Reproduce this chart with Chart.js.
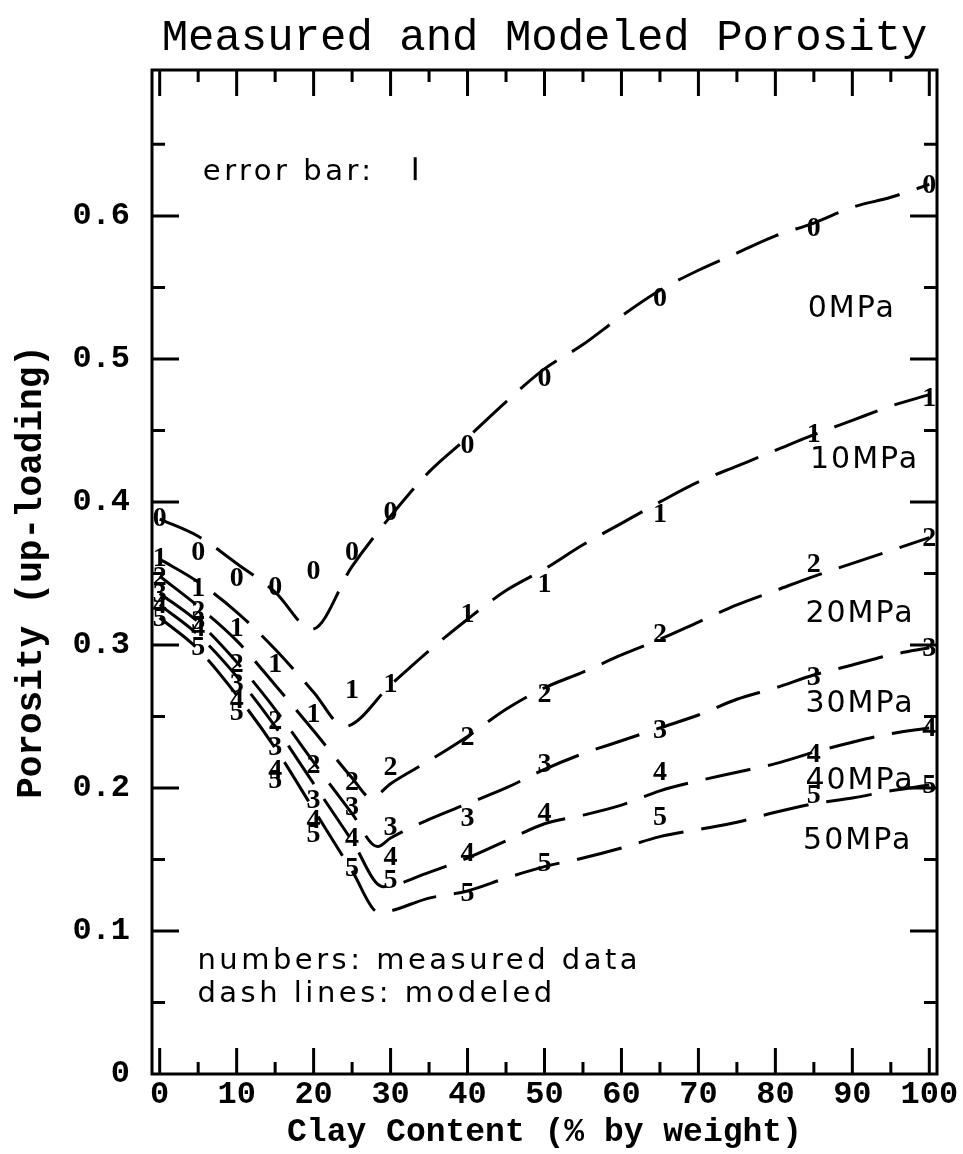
<!DOCTYPE html>
<html>
<head>
<meta charset="utf-8">
<script src="https://cdn.jsdelivr.net/npm/chart.js@4.4.1/dist/chart.umd.min.js"></script>
<style>
  html, body { margin: 0; padding: 0; background: #fff; }
  canvas { display: block; }
</style>
</head>
<body>
<canvas id="chart-porosity" width="963" height="1154"></canvas>
<script>
// measured porosity, one array per stress level (digit = label drawn at the point)
const measuredX = [0, 5, 10, 15, 20, 25, 30, 40, 50, 65, 85, 100];
const measured0 = [0.389, 0.365, 0.347, 0.341, 0.352, 0.365, 0.393, 0.440, 0.487, 0.543, 0.592, 0.622];
const measured1 = [0.361, 0.340, 0.312, 0.287, 0.252, 0.269, 0.273, 0.322, 0.343, 0.392, 0.448, 0.473];
const measured2 = [0.348, 0.324, 0.287, 0.247, 0.216, 0.204, 0.215, 0.236, 0.266, 0.308, 0.357, 0.375];
const measured3 = [0.336, 0.317, 0.273, 0.229, 0.192, 0.187, 0.173, 0.179, 0.217, 0.241, 0.278, 0.298];
const measured4 = [0.328, 0.312, 0.262, 0.213, 0.178, 0.165, 0.152, 0.155, 0.183, 0.211, 0.224, 0.242];
const measured5 = [0.319, 0.299, 0.253, 0.206, 0.168, 0.144, 0.136, 0.127, 0.148, 0.180, 0.195, 0.202];

// modeled curves (dashed)
const rise = [30, 35, 40, 45, 50, 55, 60, 65, 70, 75, 80, 85, 90, 95, 100];
const modelX0 = [0, 5, 10, 15, 19.8, 25].concat(rise);
const model0 = [0.388, 0.376, 0.357, 0.337, 0.311, 0.355, 0.390, 0.421, 0.445, 0.470, 0.493, 0.510, 0.530, 0.548, 0.562, 0.574, 0.586, 0.595, 0.606, 0.613, 0.622];
const modelX1 = [0, 5, 10, 15, 20, 24].concat(rise);
const model1 = [0.360, 0.344, 0.323, 0.297, 0.267, 0.243, 0.272, 0.296, 0.318, 0.338, 0.353, 0.370, 0.385, 0.400, 0.414, 0.425, 0.436, 0.447, 0.457, 0.467, 0.475];
const modelX2 = [0, 5, 10, 15, 20, 25, 27.5].concat(rise);
const model2 = [0.348, 0.327, 0.303, 0.272, 0.240, 0.207, 0.193, 0.203, 0.219, 0.236, 0.255, 0.270, 0.281, 0.293, 0.304, 0.316, 0.328, 0.338, 0.348, 0.357, 0.366, 0.375];
const modelX3 = [0, 5, 10, 15, 20, 25, 28.3].concat(rise);
const model3 = [0.336, 0.316, 0.288, 0.255, 0.218, 0.182, 0.159, 0.165, 0.178, 0.189, 0.200, 0.213, 0.224, 0.233, 0.242, 0.251, 0.262, 0.270, 0.279, 0.286, 0.293, 0.298];
const modelX4 = [0, 5, 10, 15, 20, 25, 29].concat(rise.slice(1));
const model4 = [0.328, 0.307, 0.278, 0.243, 0.203, 0.163, 0.131, 0.141, 0.151, 0.163, 0.175, 0.181, 0.188, 0.198, 0.205, 0.211, 0.217, 0.225, 0.232, 0.238, 0.242];
const modelX5 = [0, 5, 10, 15, 20, 25, 28.5].concat(rise.slice(1));
const model5 = [0.319, 0.297, 0.265, 0.228, 0.185, 0.142, 0.113, 0.123, 0.128, 0.137, 0.145, 0.151, 0.158, 0.166, 0.171, 0.176, 0.183, 0.189, 0.193, 0.198, 0.202];

const digits = ['0', '1', '2', '3', '4', '5'];
const xTicks = [0, 10, 20, 30, 40, 50, 60, 70, 80, 90, 100];
const yTicks = [0, 0.1, 0.2, 0.3, 0.4, 0.5, 0.6];

// text written inside the frame: [text, x, y(baseline)]
const notes = [
    ['0MPa', 84.2, 0.529],
    ['10MPa', 84.5, 0.424],
    ['20MPa', 83.9, 0.316],
    ['30MPa', 83.9, 0.253],
    ['40MPa', 83.9, 0.199],
    ['50MPa', 83.6, 0.157],
    ['error bar:', 5.6, 0.625],
    ['numbers: measured data', 4.9, 0.0734],
    ['dash lines: modeled', 4.9, 0.0503]
];
const errorBar = { x: 33.2, lo: 0.625, hi: 0.641 };

const measured = [measured0, measured1, measured2, measured3, measured4, measured5];
const modelXs = [modelX0, modelX1, modelX2, modelX3, modelX4, modelX5];
const models = [model0, model1, model2, model3, model4, model5];

const datasets = [];
models.forEach((ys, i) => {
    datasets.push({
        type: 'line',
        label: digits[i] + ' model',
        data: ys.map((y, j) => ({ x: modelXs[i][j], y: y })),
        borderColor: '#000',
        borderWidth: 3,
        borderDash: [46, 18],
        cubicInterpolationMode: 'monotone',
        pointRadius: 0,
        fill: false
    });
});
measured.forEach((ys, i) => {
    datasets.push({
        type: 'scatter',
        label: digits[i],
        digit: digits[i],
        data: ys.map((y, j) => ({ x: measuredX[j], y: y })),
        pointRadius: 0,
        showLine: false
    });
});

const whiteBg = {
    id: 'whiteBg',
    beforeDraw(chart) {
        const c = chart.ctx;
        c.save();
        c.fillStyle = '#fff';
        c.fillRect(0, 0, chart.width, chart.height);
        c.restore();
    }
};

// frame + inward tick marks, placed with the chart's own scales
const frame = {
    id: 'frame',
    afterDraw(chart) {
        const c = chart.ctx, a = chart.chartArea;
        const xs = chart.scales.x, ys = chart.scales.y;
        c.save();
        c.strokeStyle = '#000';
        c.lineWidth = 3;
        c.strokeRect(a.left, a.top, a.right - a.left, a.bottom - a.top);
        c.beginPath();
        for (let v = 0; v <= 100; v += 5) {
            const px = xs.getPixelForValue(v);
            const len = v % 10 === 0 ? 26 : 12;
            c.moveTo(px, a.bottom); c.lineTo(px, a.bottom - len);
            c.moveTo(px, a.top); c.lineTo(px, a.top + len);
        }
        for (let k = 1; k <= 13; k++) {
            const v = k * 0.05;
            const py = ys.getPixelForValue(v);
            const len = k % 2 === 0 ? 27 : 13;
            c.moveTo(a.left, py); c.lineTo(a.left + len, py);
            c.moveTo(a.right, py); c.lineTo(a.right - len, py);
        }
        c.stroke();
        c.restore();
    }
};

// measured values are drawn as their stress digit at each point
const digitMarks = {
    id: 'digitMarks',
    afterDatasetsDraw(chart) {
        const c = chart.ctx;
        c.save();
        c.fillStyle = '#000';
        c.font = 'bold 28px "Liberation Serif"';
        c.textAlign = 'center';
        c.textBaseline = 'middle';
        chart.data.datasets.forEach((ds, i) => {
            if (!ds.digit) return;
            chart.getDatasetMeta(i).data.forEach(el => c.fillText(ds.digit, el.x, el.y + 1));
        });
        c.restore();
    }
};

const noteText = {
    id: 'noteText',
    afterDraw(chart) {
        const c = chart.ctx, xs = chart.scales.x, ys = chart.scales.y;
        c.save();
        c.fillStyle = '#000';
        c.textAlign = 'left';
        c.textBaseline = 'alphabetic';
        notes.forEach(([t, x, y]) => {
            const small = t.indexOf('MPa') < 0;
            c.font = (small ? '29px' : '30px') + ' "DejaVu Sans"';
            c.letterSpacing = small ? '3.5px' : '2px';
            c.fillText(t, xs.getPixelForValue(x), ys.getPixelForValue(y));
        });
        c.letterSpacing = '0px';
        c.strokeStyle = '#000';
        c.lineWidth = 3;
        c.beginPath();
        c.moveTo(xs.getPixelForValue(errorBar.x), ys.getPixelForValue(errorBar.lo));
        c.lineTo(xs.getPixelForValue(errorBar.x), ys.getPixelForValue(errorBar.hi));
        c.stroke();
        c.restore();
    }
};

new Chart(document.getElementById('chart-porosity').getContext('2d'), {
    data: { datasets: datasets },
    plugins: [whiteBg, frame, digitMarks, noteText],
    options: {
        responsive: false,
        animation: false,
        devicePixelRatio: 1,
        layout: { padding: { left: 0, right: 26, top: 0, bottom: 0 } },
        plugins: {
            legend: { display: false },
            tooltip: { enabled: false },
            title: {
                display: true,
                fullSize: false,
                text: 'Measured and Modeled Porosity',
                color: '#000',
                font: { family: 'Liberation Mono', size: 44, weight: 'normal', lineHeight: '48px' },
                padding: { top: 14, bottom: 8 }
            }
        },
        scales: {
            x: {
                type: 'linear',
                min: -1,
                max: 101,
                grid: { display: false, drawTicks: false },
                border: { display: false },
                afterBuildTicks: s => { s.ticks = xTicks.map(v => ({ value: v })); },
                afterFit: s => { s.height = 80; },
                ticks: {
                    color: '#000',
                    padding: 2,
                    maxRotation: 0,
                    font: { family: 'Liberation Mono', size: 32, weight: 'bold' }
                },
                title: {
                    display: true,
                    text: 'Clay Content (% by weight)',
                    color: '#000',
                    padding: { top: 0, bottom: 2 },
                    font: { family: 'Liberation Mono', size: 33, weight: 'bold' }
                }
            },
            y: {
                type: 'linear',
                min: 0,
                max: 0.702,
                grid: { display: false, drawTicks: false },
                border: { display: false },
                afterBuildTicks: s => { s.ticks = yTicks.map(v => ({ value: v })); },
                afterFit: s => { s.width = 152; },
                ticks: {
                    color: '#000',
                    padding: 22,
                    font: { family: 'Liberation Mono', size: 32, weight: 'bold' },
                    callback: v => (v === 0 ? '0' : v.toFixed(1))
                },
                title: {
                    display: true,
                    text: 'Porosity (up-loading)',
                    color: '#000',
                    padding: { top: 10, bottom: 0 },
                    font: { family: 'Liberation Mono', size: 36, weight: 'bold' }
                }
            }
        }
    }
});
</script>
</body>
</html>
